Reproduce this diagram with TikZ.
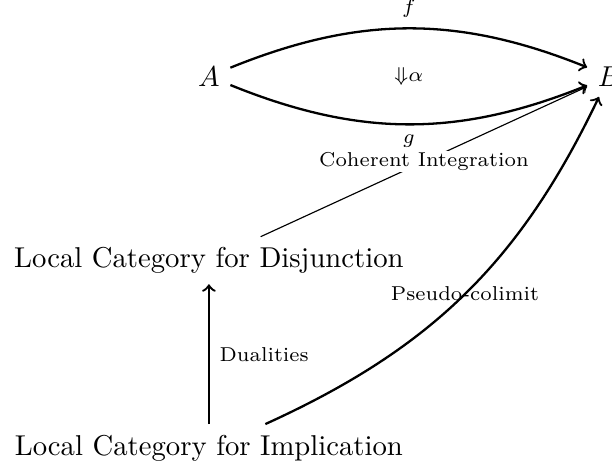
\documentclass[tikz,border=0pt]{standalone}
\usetikzlibrary{matrix}

\begin{document}
\begin{tikzpicture}[->,>=to
  ,auto
  ,thick]
  \tikzstyle{arrlabel}=[font=\scriptsize]
  \useasboundingbox (0,0) rectangle (213.2pt,-162.4pt);

  \matrix (m) [matrix of nodes
  ,row sep=49.5pt,column sep=61pt
  ,anchor=north west] at (-2.13pt,-16.12pt)
  {
    % A and B on the top row
    \node(a) {$A$}; &
    \node(b) {$B$}; \\
    % the two local categories under A
    \node(dis) {Local Category for Disjunction}; & \\
    \node(imp) {Local Category for Implication}; & \\
  };

  \path (a) edge[bend left=22] node[arrlabel] {$f$} (b)
  (a) edge[bend right=22] node[arrlabel,swap] {$g$} (b);
  \path (a) -- node[arrlabel,auto=false] {${\Downarrow}\alpha$} (b);
  \path (dis) edge[thin] node[arrlabel,auto=false,fill=white,inner sep=.5pt]
  {Coherent Integration} (b);
  \path (imp) edge node[arrlabel,swap] {Dualities} (dis)
  (imp) edge[bend right=20] node[arrlabel,auto=false] {Pseudo-colimit} (b);

\end{tikzpicture}
\end{document}
